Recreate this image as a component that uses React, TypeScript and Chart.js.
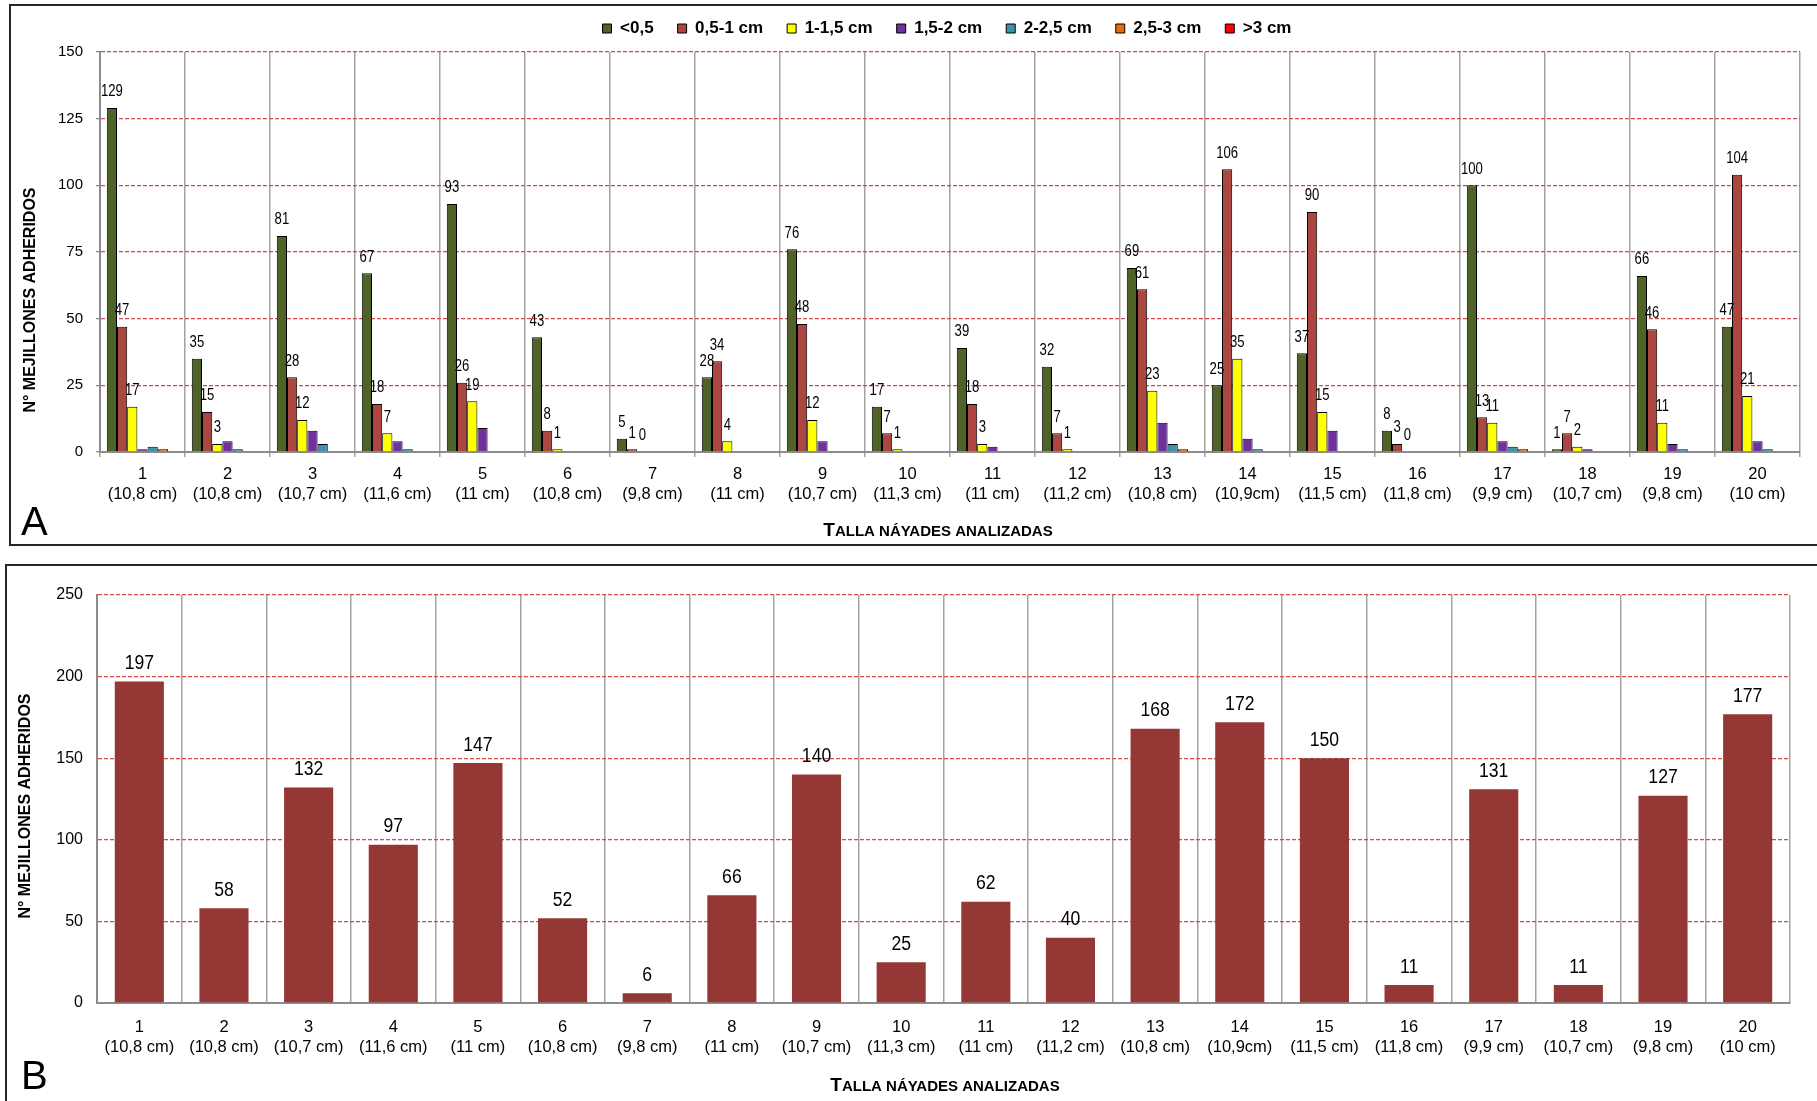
import React, { useEffect, useRef } from "react";
import { Chart, registerables } from "chart.js";

Chart.register(...registerables);

// ---------------- data ----------------
const sampleNumbers = ["1", "2", "3", "4", "5", "6", "7", "8", "9", "10", "11", "12", "13", "14", "15", "16", "17", "18", "19", "20"];
const sampleSizes = ["(10,8 cm)", "(10,8 cm)", "(10,7 cm)", "(11,6 cm)", "(11 cm)", "(10,8 cm)", "(9,8 cm)", "(11 cm)", "(10,7 cm)", "(11,3 cm)", "(11 cm)", "(11,2 cm)", "(10,8 cm)", "(10,9cm)", "(11,5 cm)", "(11,8 cm)", "(9,9 cm)", "(10,7 cm)", "(9,8 cm)", "(10 cm)"];

const seriesNames = ["<0,5", "0,5-1 cm", "1-1,5 cm", "1,5-2 cm", "2-2,5 cm", "2,5-3 cm", ">3 cm"];
const sizeUnder05 = [129, 35, 81, 67, 93, 43, 5, 28, 76, 17, 39, 32, 69, 25, 37, 8, 100, 1, 66, 47];
const size05to1 = [47, 15, 28, 18, 26, 8, 1, 34, 48, 7, 18, 7, 61, 106, 90, 3, 13, 7, 46, 104];
const size1to15 = [17, 3, 12, 7, 19, 1, 0, 4, 12, 1, 3, 1, 23, 35, 15, 0, 11, 2, 11, 21];
const size15to2 = [1, 4, 8, 4, 9, 0, 0, 0, 4, 0, 2, 0, 11, 5, 8, 0, 4, 1, 3, 4];
const size2to25 = [2, 1, 3, 1, 0, 0, 0, 0, 0, 0, 0, 0, 3, 1, 0, 0, 2, 0, 1, 1];
const size25to3 = [1, 0, 0, 0, 0, 0, 0, 0, 0, 0, 0, 0, 1, 0, 0, 0, 1, 0, 0, 0];
const sizeOver3 = [0, 0, 0, 0, 0, 0, 0, 0, 0, 0, 0, 0, 0, 0, 0, 0, 0, 0, 0, 0];
const seriesValues = [sizeUnder05, size05to1, size1to15, size15to2, size2to25, size25to3, sizeOver3];
const seriesColors = ["#4F6228", "#AB4641", "#FFFF00", "#7030A0", "#3A93AE", "#E46C0A", "#FF0000"];
const labelledSeries = [0, 1, 2];

const totalMussels = [197, 58, 132, 97, 147, 52, 6, 66, 140, 25, 62, 40, 168, 172, 150, 11, 131, 11, 127, 177];

const yTitle = "N° MEJILLONES ADHERIDOS";
const xTitle = "TALLA NÁYADES ANALIZADAS";

const SANS = "'Liberation Sans', Arial, Helvetica, sans-serif";
const GRID_RED = "#D44A48";
const AXIS_GRAY = "#8C8C8C";
const VGRID_GRAY = "#A3A3A3";

const categoryLabels = sampleNumbers.map((n, i) => [n, sampleSizes[i]]);

// ---------------- plugins ----------------
const legendPlace = {
  id: "legendPlace",
  afterLayout(chart: any, _a: any, opts: any) {
    const lg = chart.legend;
    if (!lg || !lg.lineWidths || !opts || opts.center == null) return;
    const lo = lg.options.labels;
    const pad = lo.padding;
    const lw = lg.lineWidths[0];
    const curStart = (lg.left + pad + lg.right - lw) / 2;
    const wantStart = opts.center - (lw - pad) / 2;
    const dx = wantStart - curStart;
    lg.left += dx;
    lg.right += dx;
    const fs = lo.font && lo.font.size ? lo.font.size : 12;
    const itemH = Math.max(fs, lo.boxHeight || fs);
    const dy = opts.textY - (lg.top + pad + itemH / 2);
    lg.top += dy;
    lg.bottom += dy;
  },
};

const valueLabels = {
  id: "valueLabels",
  afterDatasetsDraw(chart: any, _a: any, opts: any) {
    if (!opts || !opts.datasets) return;
    const ctx = chart.ctx;
    ctx.save();
    ctx.fillStyle = "#000";
    ctx.font = opts.font;
    ctx.textAlign = "center";
    ctx.textBaseline = "middle";
    opts.datasets.forEach((di: number) => {
      const meta = chart.getDatasetMeta(di);
      const data = chart.data.datasets[di].data;
      meta.data.forEach((el: any, i: number) => {
        const p = el.getProps(["x", "y"], true);
        ctx.save();
        ctx.translate(p.x, p.y - opts.offset);
        ctx.scale(opts.squeeze, 1);
        ctx.fillText(String(data[i]), 0, 0);
        ctx.restore();
      });
    });
    ctx.restore();
  },
};

const annot = {
  id: "annot",
  afterDraw(chart: any, _a: any, o: any) {
    if (!o || !o.letter) return;
    const ctx = chart.ctx;
    ctx.save();
    ctx.fillStyle = "#000";
    // panel letter
    ctx.font = `40px ${SANS}`;
    ctx.textAlign = "left";
    ctx.textBaseline = "alphabetic";
    ctx.fillText(o.letter, o.letterX, o.letterY);
    // y title
    ctx.save();
    ctx.translate(o.yTitleX, o.yTitleY);
    ctx.rotate(-Math.PI / 2);
    ctx.font = `bold 16px ${SANS}`;
    ctx.textAlign = "center";
    ctx.textBaseline = "middle";
    ctx.fillText(yTitle, 0, 0);
    ctx.restore();
    // x title in small caps
    const first = xTitle.slice(0, 1);
    const rest = xTitle.slice(1);
    ctx.font = `bold 19px ${SANS}`;
    const w1 = ctx.measureText(first).width;
    ctx.font = `bold 15px ${SANS}`;
    const w2 = ctx.measureText(rest).width;
    const x0 = o.xTitleX - (w1 + w2) / 2;
    ctx.textAlign = "left";
    ctx.textBaseline = "alphabetic";
    ctx.font = `bold 19px ${SANS}`;
    ctx.fillText(first, x0, o.xTitleY);
    ctx.font = `bold 15px ${SANS}`;
    ctx.fillText(rest, x0 + w1, o.xTitleY);
    ctx.restore();
  },
};

// ---------------- configs ----------------
function topConfig(): any {
  return {
    type: "bar",
    data: {
      labels: categoryLabels,
      datasets: seriesNames.map((name, k) => ({
        label: name,
        data: seriesValues[k],
        backgroundColor: seriesColors[k],
        borderColor: "#000",
        borderWidth: 1,
        categoryPercentage: 0.84,
        barPercentage: 1,
      })),
    },
    options: {
      responsive: false,
      animation: false,
      devicePixelRatio: 1,
      events: [],
      layout: { padding: { top: 1, left: 0, right: 17, bottom: 0 } },
      scales: {
        x: {
          grid: { color: VGRID_GRAY, lineWidth: 1.5, offset: true, drawTicks: true, tickLength: 5 },
          border: { color: AXIS_GRAY, width: 2 },
          ticks: {
            color: "#000",
            font: { family: SANS, size: 16.5, lineHeight: 1.22 },
            padding: 7,
            maxRotation: 0,
            autoSkip: false,
          },
          afterFit: (s: any) => {
            s.height = 96;
          },
        },
        y: {
          min: 0,
          max: 150,
          ticks: { stepSize: 25, color: "#000", font: { family: SANS, size: 15 }, padding: 13 },
          grid: {
            color: (c: any) => (c.tick && c.tick.value === 0 ? "rgba(0,0,0,0)" : GRID_RED),
            lineWidth: 1.3,
            tickLength: 4,
            tickColor: AXIS_GRAY,
            tickBorderDash: [],
          },
          border: { color: AXIS_GRAY, width: 2, dash: [4, 2] },
          afterFit: (s: any) => {
            s.width = 100;
          },
        },
      },
      plugins: {
        legend: {
          position: "top",
          labels: {
            boxWidth: 9,
            boxHeight: 9,
            padding: 24,
            color: "#000",
            font: { family: SANS, size: 17, weight: "bold" },
          },
        },
        tooltip: { enabled: false },
        legendPlace: { center: 947, textY: 28.5 },
        valueLabels: { datasets: labelledSeries, font: `16px ${SANS}`, offset: 16, squeeze: 0.82 },
        annot: {
          letter: "A",
          letterX: 21,
          letterY: 535,
          yTitleX: 31,
          yTitleY: 300,
          xTitleX: 938,
          xTitleY: 536,
        },
      },
    },
    plugins: [legendPlace, valueLabels, annot],
  };
}

function bottomConfig(): any {
  return {
    type: "bar",
    data: {
      labels: categoryLabels,
      datasets: [
        {
          label: "Total",
          data: totalMussels,
          backgroundColor: "#953735",
          borderWidth: 0,
          categoryPercentage: 0.58,
          barPercentage: 1,
        },
      ],
    },
    options: {
      responsive: false,
      animation: false,
      devicePixelRatio: 1,
      events: [],
      layout: { padding: { top: 40, left: 0, right: 27, bottom: 0 } },
      scales: {
        x: {
          grid: { color: VGRID_GRAY, lineWidth: 1.5, offset: true, drawTicks: false },
          border: { color: AXIS_GRAY, width: 2 },
          ticks: {
            color: "#000",
            font: { family: SANS, size: 16.5, lineHeight: 1.22 },
            padding: 14,
            maxRotation: 0,
            autoSkip: false,
          },
          afterFit: (s: any) => {
            s.height = 98;
          },
        },
        y: {
          min: 0,
          max: 250,
          ticks: { stepSize: 50, color: "#000", font: { family: SANS, size: 16 }, padding: 14 },
          grid: {
            color: (c: any) => (c.tick && c.tick.value === 0 ? "rgba(0,0,0,0)" : GRID_RED),
            lineWidth: 1.3,
            drawTicks: false,
          },
          border: { color: AXIS_GRAY, width: 2, dash: [4, 2] },
          afterFit: (s: any) => {
            s.width = 97;
          },
        },
      },
      plugins: {
        legend: { display: false },
        tooltip: { enabled: false },
        valueLabels: { datasets: [0], font: `20px ${SANS}`, offset: 18, squeeze: 0.88 },
        annot: {
          letter: "B",
          letterX: 21,
          letterY: 534,
          yTitleX: 26,
          yTitleY: 251,
          xTitleX: 945,
          xTitleY: 536,
        },
      },
    },
    plugins: [valueLabels, annot],
  };
}

// ---------------- components ----------------
function ChartCanvas(props: { make: () => any; top: number; width: number; height: number }) {
  const ref = useRef<HTMLCanvasElement>(null);
  useEffect(() => {
    const chart = new Chart(ref.current as HTMLCanvasElement, props.make());
    return () => chart.destroy();
  }, []);
  return (
    <canvas
      ref={ref}
      width={props.width}
      height={props.height}
      style={{ position: "absolute", left: 0, top: props.top, width: props.width, height: props.height, display: "block" }}
    />
  );
}

export default function App() {
  return (
    <div
      style={{
        position: "fixed",
        left: 0,
        top: 0,
        width: 1817,
        height: 1101,
        background: "#fff",
        overflow: "hidden",
      }}
    >
      <ChartCanvas make={topConfig} top={0} width={1817} height={548} />
      <ChartCanvas make={bottomConfig} top={555} width={1817} height={546} />
      <div
        style={{
          position: "absolute",
          left: 9,
          top: 4,
          width: 1900,
          height: 542,
          border: "2px solid #262626",
          boxSizing: "border-box",
          pointerEvents: "none",
        }}
      />
      <div
        style={{
          position: "absolute",
          left: 5,
          top: 564,
          width: 1900,
          height: 700,
          border: "2px solid #262626",
          boxSizing: "border-box",
          pointerEvents: "none",
        }}
      />
    </div>
  );
}
